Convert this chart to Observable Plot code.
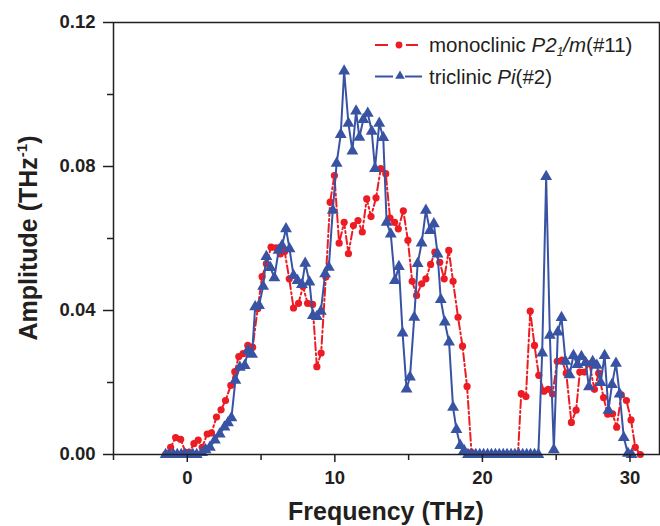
<!DOCTYPE html>
<html>
<head>
<meta charset="utf-8">
<script src="https://cdn.jsdelivr.net/npm/d3@7"></script>
<script src="https://cdn.jsdelivr.net/npm/@observablehq/plot@0.6"></script>
<style>
  html, body { margin: 0; padding: 0; background: #fff; }
  #chart { width: 660px; height: 526px; }
</style>
</head>
<body>
<div id="chart"></div>
<script>
// [frequency (THz), amplitude (THz^-1)]
const monoclinic = [
  [-1.47,0],[-1.13,0.002],[-0.79,0.0047],[-0.45,0.0042],[-0.11,0.0006],[0.15,0.0006],
  [0.45,0.003],[0.74,0.004],[1.01,0.002],[1.35,0.0057],[1.64,0.006],[1.98,0.0104],
  [2.29,0.0124],[2.59,0.015],[2.95,0.0192],[3.22,0.023],[3.49,0.0272],[3.78,0.028],
  [4.1,0.0303],[4.43,0.0298],[4.77,0.0405],[5.07,0.0494],[5.36,0.053],[5.68,0.0576],
  [6.01,0.0574],[6.3,0.0557],[6.6,0.0564],[6.91,0.0488],[7.2,0.0407],[7.54,0.042],
  [7.84,0.0467],[8.15,0.042],[8.49,0.0417],[8.78,0.0244],[9.07,0.0282],[9.39,0.0493],
  [9.68,0.0701],[9.97,0.0775],[10.29,0.0587],[10.63,0.0645],[10.92,0.0558],[11.26,0.0636],
  [11.57,0.065],[11.86,0.0618],[12.16,0.071],[12.45,0.0661],[12.79,0.0713],[13.11,0.0794],
  [13.45,0.078],[13.74,0.0657],[14.05,0.0645],[14.3,0.0627],[14.64,0.0677],[14.95,0.0595],
  [15.24,0.0481],[15.54,0.0442],[15.88,0.0474],[16.17,0.0488],[16.49,0.0528],[16.78,0.0562],
  [17.11,0.0534],[17.41,0.0488],[17.72,0.0567],[18.01,0.0481],[18.35,0.0381],[18.65,0.0301],
  [18.96,0.0189],[19.26,0.0006],[22.41,0.0002],[22.63,0.0169],[22.95,0.0161],[23.24,0.0398],
  [23.53,0.0303],[23.82,0.022],[24.17,0.0176],[24.46,0.0181],[24.75,0.0168],[25.07,0.0259],
  [25.4,0.0262],[25.68,0.0226],[26.03,0.0089],[26.35,0.0123],[26.6,0.0229],[26.91,0.0229],
  [27.25,0.0252],[27.59,0.0181],[27.88,0.0226],[28.21,0.0158],[28.49,0.0112],[28.82,0.0113],
  [29.1,0.0076],[29.41,0.0166],[29.76,0.015],[30.07,0.0096],[30.36,0.002],[30.7,0]
];

const triclinic = [
  [-1.47,0],[-1.2,0],[-0.94,0],[-0.68,0],[-0.41,0],[-0.15,0],[0.12,0],[0.38,0],[0.64,0],
  [1.0,0.0005],[1.24,0.0013],[1.53,0.002],[1.87,0.004],[2.2,0.0057],[2.52,0.0076],
  [2.76,0.0088],[2.99,0.0102],[3.26,0.0206],[3.56,0.0242],[3.89,0.0247],[4.12,0.0289],
  [4.39,0.0278],[4.6,0.041],[4.86,0.0414],[5.14,0.0467],[5.36,0.055],[5.63,0.0519],
  [5.9,0.0491],[6.19,0.0567],[6.42,0.058],[6.69,0.0627],[6.93,0.0571],[7.2,0.0497],
  [7.47,0.0483],[7.77,0.0472],[7.99,0.0531],[8.28,0.0479],[8.51,0.0386],[8.78,0.0383],
  [9.05,0.0398],[9.34,0.0502],[9.59,0.052],[9.86,0.0678],[10.12,0.0809],[10.4,0.0889],
  [10.63,0.1065],[10.92,0.092],[11.19,0.0843],[11.44,0.0954],[11.66,0.0881],[11.93,0.093],
  [12.23,0.0948],[12.5,0.0898],[12.72,0.0794],[13.01,0.092],[13.28,0.088],[13.51,0.0645],
  [13.79,0.0612],[14.07,0.0483],[14.34,0.0522],[14.59,0.0337],[14.86,0.0182],[15.09,0.0215],
  [15.38,0.0381],[15.61,0.053],[15.88,0.0587],[16.17,0.0678],[16.44,0.0622],[16.71,0.0641],
  [16.96,0.0557],[17.18,0.043],[17.45,0.0368],[17.74,0.0312],[18.01,0.0131],[18.24,0.0069],
  [18.5,0.0025],[18.76,0.0011],[19.02,0],[19.29,0],[19.55,0],[19.82,0],[20.08,0],[20.35,0],
  [20.61,0],[20.88,0],[21.14,0],[21.41,0],[21.67,0],[21.94,0],[22.2,0],[22.47,0],[22.73,0],
  [23.0,0],[23.26,0],[23.53,0],[23.79,0],[24.05,0.0282],[24.32,0.0772],[24.57,0.0331],
  [24.84,0.0013],[25.11,0.034],[25.36,0.038],[25.63,0.0259],[25.9,0.0221],[26.17,0.0275],
  [26.44,0.025],[26.71,0.0272],[26.99,0.0255],[27.22,0.0188],[27.47,0.0258],[27.75,0.0248],
  [28.01,0.02],[28.28,0.0275],[28.54,0.0123],[28.78,0.0194],[29.05,0.0253],[29.3,0.0168],
  [29.58,0.0047],[29.86,0.0003],[30.11,0]
];

const xMajorTicks = [0, 10, 20, 30];
const xMinorTicks = [-5, 5, 15, 25];
const yMajorTicks = [0, 0.04, 0.08, 0.12];
const yMinorTicks = [0.02, 0.06, 0.10];

const seriesNames = ["monoclinic", "triclinic"];
const RED = "#ed1c24";
const BLUE = "#3953a4";
const INK = "#231f20";
const FONT = "'Liberation Sans', Arial, Helvetica, sans-serif";

const chart = Plot.plot({
  width: 660,
  height: 526,
  marginLeft: 113,
  marginRight: 1,
  marginTop: 22,
  marginBottom: 72,
  style: { fontFamily: FONT, fontSize: "18.5px", fontWeight: "bold", color: INK, background: "#fff", overflow: "visible" },
  x: { domain: [-5, 32], label: null },
  y: { domain: [0, 0.12], label: null },
  marks: [
    Plot.line(monoclinic, { x: d => d[0], y: d => d[1], stroke: RED, strokeWidth: 2, strokeDasharray: "8,3,2,3" }),
    Plot.dot(monoclinic, { x: d => d[0], y: d => d[1], r: 3.6, fill: RED, stroke: "none" }),
    Plot.line(triclinic, { x: d => d[0], y: d => d[1], stroke: BLUE, strokeWidth: 2 }),
    Plot.dot(triclinic, { x: d => d[0], y: d => d[1], symbol: "triangle", r: 4.4, fill: BLUE, stroke: "none" }),
    Plot.frame({ stroke: INK, strokeWidth: 1.5 }),
    Plot.axisX({ ticks: xMajorTicks, tickSize: 8, tickPadding: 8, fontSize: 18.5, tickFormat: d => String(d), stroke: INK, strokeWidth: 1.5, label: null }),
    Plot.axisX({ ticks: xMinorTicks, tickSize: 6, tickFormat: () => "", stroke: INK, strokeWidth: 1.5, label: null }),
    Plot.axisY({ ticks: yMajorTicks, tickSize: 10, tickPadding: 8, fontSize: 18.5, tickFormat: d3.format(".2f"), stroke: INK, strokeWidth: 1.5, label: null }),
    Plot.axisY({ ticks: yMinorTicks, tickSize: 6, tickFormat: () => "", stroke: INK, strokeWidth: 1.5, label: null })
  ]
});

document.getElementById("chart").appendChild(chart);

const svg = d3.select(chart);

// Axis titles
svg.append("text")
  .attr("x", 386).attr("y", 520)
  .attr("text-anchor", "middle")
  .attr("font-family", FONT).attr("font-size", 25).attr("font-weight", "bold").attr("fill", INK)
  .text("Frequency (THz)");

const yt = svg.append("text")
  .attr("transform", "translate(37,238) rotate(-90)")
  .attr("text-anchor", "middle")
  .attr("font-family", FONT).attr("font-size", 25).attr("font-weight", "bold").attr("fill", INK);
yt.append("tspan").text("Amplitude (THz");
yt.append("tspan").attr("dy", -10).attr("font-size", 15).text("-1");
yt.append("tspan").attr("dy", 10).text(")");

// Legend
const lg = svg.append("g").attr("font-family", FONT).attr("font-size", 20.5).attr("font-weight", "normal").attr("text-anchor", "start").attr("fill", INK);
lg.append("line").attr("x1", 375).attr("x2", 388).attr("y1", 45).attr("y2", 45).attr("stroke", RED).attr("stroke-width", 2);
lg.append("line").attr("x1", 406).attr("x2", 418).attr("y1", 45).attr("y2", 45).attr("stroke", RED).attr("stroke-width", 2);
lg.append("circle").attr("cx", 399).attr("cy", 45).attr("r", 3.4).attr("fill", RED);
const t1 = lg.append("text").attr("x", 429).attr("y", 52);
t1.append("tspan").text(seriesNames[0] + " ");
t1.append("tspan").attr("font-style", "italic").text("P2");
t1.append("tspan").attr("font-style", "italic").attr("font-size", 12).attr("dy", 4).text("1");
t1.append("tspan").attr("font-style", "italic").attr("dy", -4).text("/m");
t1.append("tspan").text("(#11)");

lg.append("line").attr("x1", 375).attr("x2", 393).attr("y1", 76.5).attr("y2", 76.5).attr("stroke", BLUE).attr("stroke-width", 2);
lg.append("line").attr("x1", 405).attr("x2", 422).attr("y1", 76.5).attr("y2", 76.5).attr("stroke", BLUE).attr("stroke-width", 2);
lg.append("path").attr("d", d3.symbol(d3.symbolTriangle, 40)()).attr("transform", "translate(400,76)").attr("fill", BLUE);
const t2 = lg.append("text").attr("x", 429).attr("y", 83.5);
t2.append("tspan").text(seriesNames[1] + " ");
t2.append("tspan").attr("font-style", "italic").text("Pi");
t2.append("tspan").text("(#2)");
</script>
</body>
</html>
